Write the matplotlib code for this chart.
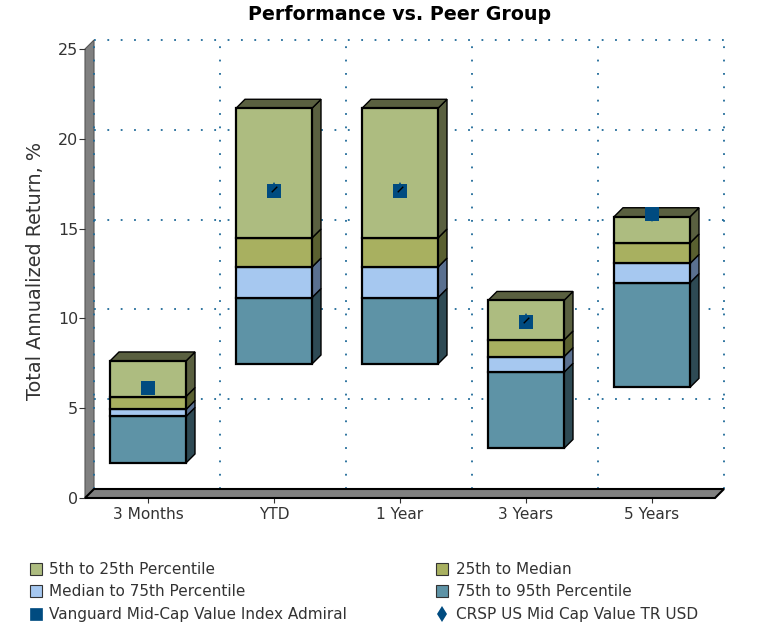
import matplotlib
matplotlib.use('Agg')
import matplotlib.pyplot as plt
from matplotlib.patches import Polygon, Rectangle
from matplotlib.lines import Line2D

# valores
categorias = ['3 Months', 'YTD', '1 Year', '3 Years', '5 Years']
base_95 = [1.95, 7.46, 7.46, 2.76, 6.16]
p75 = [4.54, 11.16, 11.16, 7.0, 11.99]
mediana = [4.93, 12.86, 12.86, 7.87, 13.06]
p25 = [5.65, 14.48, 14.48, 8.8, 14.2]
p5 = [7.63, 21.7, 21.7, 11.0, 15.66]
fundo = [6.1, 17.1, 17.1, 9.82, 15.8]
indice = [6.15, 17.2, 17.2, 9.9, 15.75]

nomes = ['5th to 25th Percentile', '25th to Median', 'Median to 75th Percentile',
         '75th to 95th Percentile', 'Vanguard Mid-Cap Value Index Admiral',
         'CRSP US Mid Cap Value TR USD']
cor_frente = ['#ADBC80', '#A8B060', '#A6C8F0', '#5E93A6']
cor_lado = ['#5A6040', '#5A6030', '#5A7090', '#2E4A54']
cor_ponto = '#004B80'
cor_texto = '#333333'

W, H = 778, 624
fig = plt.figure(figsize=(W / 100, H / 100), dpi=100)
ax = fig.add_axes([85 / W, 1 - 498 / H, 630 / W, 449 / H])
ax.set_xlim(0, 5)
ax.set_ylim(0, 25)
for s in ax.spines.values():
    s.set_visible(False)

# profundidade do efeito 3D (9 px) em unidades de dados
dx = 9 / 126
dy = 9 / (449 / 25)

# grade no plano de tras
grade = dict(color='#1F6A98', lw=1.3, ls=(0, (1, 6.4)), zorder=1, clip_on=False)
for v in [5, 10, 15, 20, 25]:
    ax.plot([dx, 5 + dx], [v + dy, v + dy], **grade)
for i in range(6):
    ax.plot([i + dx, i + dx], [dy, 25 + dy], **grade)

# parede e piso
ax.add_patch(Polygon([(0, 0), (dx, dy), (dx, 25 + dy), (0, 25)], fc='#808080', ec='#555555',
                     lw=0.8, zorder=0.5, clip_on=False))
ax.add_patch(Polygon([(0, 0), (5, 0), (5 + dx, dy), (dx, dy)], fc='#808080', ec='black',
                     lw=1.5, zorder=2, clip_on=False))

# caixas
larg = 76 / 126
for i in range(5):
    x0 = i + 0.5 - larg / 2
    x1 = x0 + larg
    faixas = [(p25[i], p5[i], 0), (mediana[i], p25[i], 1), (p75[i], mediana[i], 2), (base_95[i], p75[i], 3)]
    for baixo, cima, k in reversed(faixas):
        ax.add_patch(Polygon([(x1, baixo), (x1 + dx, baixo + dy), (x1 + dx, cima + dy), (x1, cima)],
                             fc=cor_lado[k], ec='black', lw=1.0, zorder=3, clip_on=False))
        ax.add_patch(Rectangle((x0, baixo), larg, cima - baixo, fc=cor_frente[k], ec='black',
                               lw=1.6, zorder=4, clip_on=False))
    ax.add_patch(Polygon([(x0, p5[i]), (x1, p5[i]), (x1 + dx, p5[i] + dy), (x0 + dx, p5[i] + dy)],
                         fc=cor_lado[0], ec='black', lw=1.0, zorder=3.5, clip_on=False))

centros = [i + 0.5 for i in range(5)]
ax.plot(centros, indice, ls='none', marker='d', ms=7, color=cor_ponto, mew=0, zorder=5, clip_on=False)
ax.plot(centros, fundo, ls='none', marker='s', ms=9.8, color=cor_ponto, mew=0, zorder=6, clip_on=False)
# tracinho preto que aparece sobre alguns marcadores
ax.plot(centros[1:4], indice[1:4], ls='none', marker=[(-1, -1), (1, 1)], ms=4, mec='black', mew=1,
        zorder=7, clip_on=False)

ax.set_xticks(centros, categorias)
ax.set_yticks([0, 5, 10, 15, 20, 25])
ax.tick_params(axis='x', length=3.6, width=0.8, color=cor_texto, labelcolor=cor_texto, labelsize=11.1, pad=3)
ax.tick_params(axis='y', length=4.3, width=0.8, color=cor_texto, labelcolor=cor_texto, labelsize=11.4, pad=0.5)
fig.text(36 / W, 1 - 271 / H, 'Total Annualized Return, %', rotation=90, ha='center', va='center',
         fontsize=13.9, color=cor_texto)
fig.text(399.5 / W, 1 - 15 / H, 'Performance vs. Peer Group', ha='center', va='center',
         fontsize=13.7, fontweight='bold', color='black')

# legenda feita a mao
pos = [(30, 569), (436, 569), (30, 591), (436, 591), (30, 614), (436, 614)]
for j, (px, py) in enumerate(pos):
    tx = px + 19 if px == 30 else px + 20
    fig.text(tx / W, 1 - py / H, nomes[j], ha='left', va='center', fontsize=11, color=cor_texto)
    if j < 4:
        fig.add_artist(Rectangle((px / W, 1 - (py + 6) / H), 12 / W, 12 / H, fc=cor_frente[j], ec='#333333',
                                 lw=0.8, transform=fig.transFigure))
    elif j == 4:
        fig.add_artist(Rectangle((px / W, 1 - (py + 6) / H), 12 / W, 12 / H, fc=cor_ponto, ec=cor_ponto,
                                 lw=0.5, transform=fig.transFigure))
    else:
        fig.add_artist(Line2D([(px + 6) / W], [1 - py / H], marker='d', ms=8, color=cor_ponto, mew=0,
                              ls='none', transform=fig.transFigure))

fig.savefig('out.png', dpi=100)
